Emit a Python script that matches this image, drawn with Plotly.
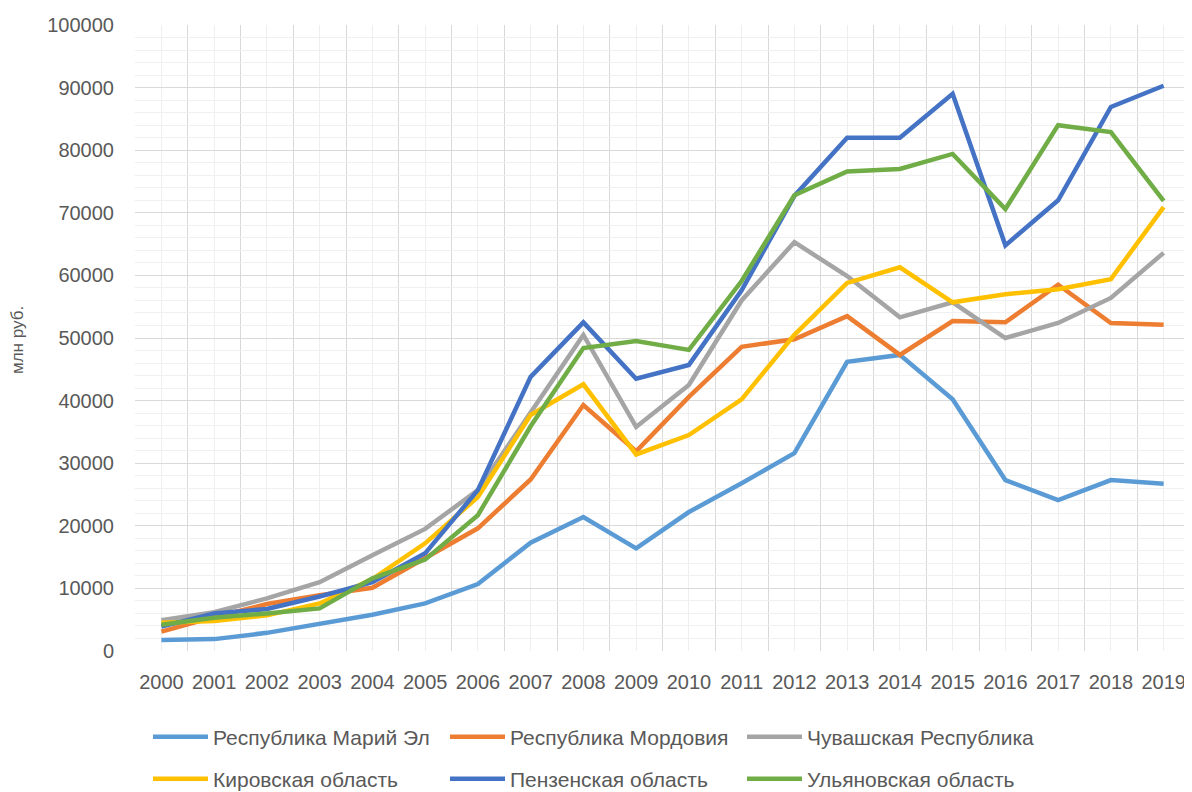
import plotly.graph_objects as go

years = list(range(2000, 2020))

mari_el = [1750, 1900, 2900, 4300, 5800, 7600, 10700, 17300, 21400, 16400,
           22200, 26800, 31600, 46200, 47300, 40200, 27300, 24100, 27300, 26700]
mordovia = [3100, 5400, 7500, 8900, 10100, 14800, 19600, 27400, 39300, 31900,
            40600, 48600, 49800, 53500, 47300, 52700, 52500, 58500, 52400, 52100]
chuvash = [4900, 6200, 8400, 11000, 15300, 19500, 25700, 38000, 50500, 35800,
           42500, 56000, 65300, 59900, 53300, 55700, 50000, 52400, 56400, 63600]
kirov = [4500, 4800, 5700, 7600, 11500, 17200, 24600, 37700, 42600, 31400,
         34500, 40200, 50500, 58800, 61300, 55700, 57000, 57800, 59400, 70900]
penza = [3900, 6000, 6700, 8700, 11000, 15600, 25700, 43800, 52500, 43500,
         45700, 57600, 72700, 82000, 82000, 89000, 64800, 72000, 86900, 90300]
ulyanovsk = [4200, 5300, 6000, 6800, 11600, 14600, 21700, 35900, 48400, 49500,
             48100, 59100, 72800, 76600, 77000, 79400, 70600, 84000, 82900, 71900]

series = [
    ("Республика Марий Эл", mari_el, "#5B9BD5", "legend"),
    ("Республика Мордовия", mordovia, "#ED7D31", "legend"),
    ("Чувашская Республика", chuvash, "#A5A5A5", "legend"),
    ("Кировская область", kirov, "#FFC000", "legend2"),
    ("Пензенская область", penza, "#4472C4", "legend2"),
    ("Ульяновская область", ulyanovsk, "#70AD47", "legend2"),
]

font = "Liberation Sans"
grey = "#595959"

# the page body adds an 8px offset, so the figure is shifted by 8px
W, H = 1184, 784

fig = go.Figure()
for name, vals, color, leg in series:
    fig.add_trace(go.Scatter(x=years, y=vals, name=name, mode="lines",
                             line=dict(color=color, width=4.5), legend=leg))

legend_style = dict(orientation="h", xref="container", yref="container",
                    x=140 / W, xanchor="left", yanchor="middle",
                    entrywidth=227, entrywidthmode="pixels", itemwidth=55,
                    font=dict(family=font, size=21, color=grey),
                    bgcolor="rgba(0,0,0,0)")

fig.update_layout(
    width=W, height=H,
    margin=dict(l=127, r=2, t=17, b=H - 643),
    plot_bgcolor="white", paper_bgcolor="white",
    font=dict(family=font, color=grey),
    legend=dict(legend_style, y=1 - 729 / H),
    legend2=dict(legend_style, y=1 - 771 / H),
    xaxis=dict(
        range=[1999.5, 2019.5], tickvals=years,
        tickfont=dict(size=20, color=grey),
        showgrid=True, gridcolor="#EFEFEF", gridwidth=1,
        ticks="", ticklabelstandoff=17, zeroline=False, automargin=False,
        minor=dict(tickvals=[y - 0.5 for y in years] + [2019.5], showgrid=True,
                   gridcolor="#D9D9D9", gridwidth=1),
    ),
    yaxis=dict(
        range=[0, 100000], dtick=10000, tickformat="d",
        tickfont=dict(size=20, color=grey),
        showgrid=True, gridcolor="#D9D9D9", gridwidth=1,
        ticks="", ticklabelstandoff=20, zeroline=False, automargin=False,
        showline=False,
        minor=dict(dtick=2000, showgrid=True, gridcolor="#F0F0F0", gridwidth=1),
    ),
    annotations=[dict(text="млн руб.", xref="paper", yref="paper",
                      x=(18 - 135) / 1055, y=(651 - 340) / 626, textangle=-90,
                      xanchor="center", yanchor="middle",
                      showarrow=False, font=dict(family=font, size=17, color=grey))],
)

fig.write_html("out.html")
